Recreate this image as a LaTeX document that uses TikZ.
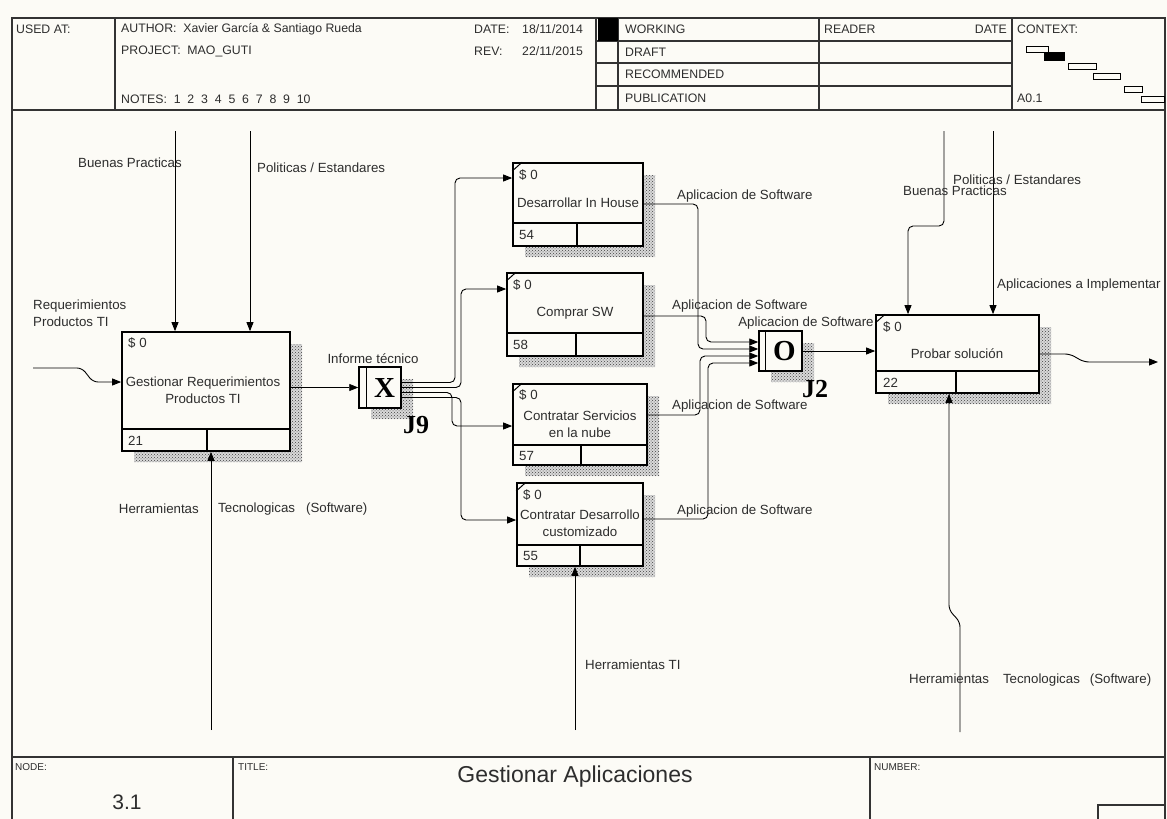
\documentclass[tikz,border=0pt]{standalone}
\usepackage{fontspec}
\setmainfont{Liberation Sans}
\newfontfamily\jfont{Liberation Serif}
\usetikzlibrary{arrows.meta, patterns}
\definecolor{paper}{RGB}{252,251,246}
\definecolor{ink}{RGB}{45,45,45}

% L-shaped hatched shadow of a box (x1,y1)-(x2,y2)
\newcommand\boxshadow[4]{%
  \fill[shadebg] (#3,{#2+12}) -- ({#3+12},{#2+12}) -- ({#3+12},{#4+11})
    -- ({#1+12},{#4+11}) -- ({#1+12},#4) -- (#3,#4) -- cycle;
  \fill[shade] (#3,{#2+12}) -- ({#3+12},{#2+12}) -- ({#3+12},{#4+11})
    -- ({#1+12},{#4+11}) -- ({#1+12},#4) -- (#3,#4) -- cycle;}
% lower strip of an activity box: name, strip y, divider x
\newcommand\boxstrip[3]{%
  \draw[part] (#1.west |- 0,#2) -- (#1.east |- 0,#2)
              (#3,#2) -- (#1.south -| #3,0);}

\begin{document}
\begin{tikzpicture}[
  x=1pt, y=-1pt,
  font=\fontsize{13.3}{17}\selectfont,
  actbox/.style={draw, line width=1.7pt, fill=paper, inner sep=0pt},
  junc/.style={draw, line width=1.5pt, fill=paper, inner sep=0pt},
  part/.style={line width=1.5pt},
  tick/.style={line width=1pt},
  rel/.style={-{Triangle[length=9pt,width=7pt]}, line width=0.9pt, rounded corners=5pt},
  lbl/.style={inner sep=0pt, text=ink},
  hdr/.style={inner sep=0pt, font=\fontsize{12.3}{14}\selectfont, text=ink},
  ftr/.style={inner sep=0pt, font=\fontsize{10}{12}\selectfont, text=ink},
  jlbl/.style={inner sep=0pt, font=\jfont\bfseries\fontsize{26}{26}\selectfont},
  jsym/.style={inner sep=0pt, font=\jfont\bfseries\fontsize{29}{29}\selectfont},
  shadebg/.style={fill=black!15},
  shade/.style={pattern=crosshatch dots, pattern color=black!75},
  frame/.style={line width=1.2pt, draw=black!80}
]
\fill[paper] (0,0) rectangle (1167,819);
\useasboundingbox (0,0) rectangle (1167,819);

% form frame
\draw[frame] (12,819) -- (12,18) -- (1165,18) -- (1165,819);
\draw[frame] (12,110) -- (1165,110);
\draw[frame] (12,757) -- (1165,757);
\draw[frame] (115,18) -- (115,110) (596,18) -- (596,110) (618,18) -- (618,110)
             (819,18) -- (819,110) (1012,18) -- (1012,110);
\draw[frame] (596,41) -- (1012,41) (596,63) -- (1012,63) (596,86) -- (1012,86);
\fill (598,18) rectangle (618,41);
\draw[frame] (233,757) -- (233,819) (870,757) -- (870,819);
\draw[frame] (1098,819) -- (1098,805) -- (1165,805);

% header texts
\node[hdr, anchor=west] (usedat) at (16,29) {USED AT:};
\node[hdr, anchor=west] (author) at (121,29) {AUTHOR:~~Xavier García \& Santiago Rueda};
\node[hdr, anchor=west] (project) at (121,51) {PROJECT:~~MAO\_GUTI};
\node[hdr, anchor=west] (notes) at (121,99) {NOTES:~~1~~2~~3~~4~~5~~6~~7~~8~~9~~10};
\node[hdr, anchor=west] (date) at (474,29) {DATE:};
\node[hdr, anchor=west] (dateval) at (522,29) {18/11/2014};
\node[hdr, anchor=west] (rev) at (474,51) {REV:};
\node[hdr, anchor=west] (revval) at (522,51) {22/11/2015};
\node[hdr, anchor=west] (working) at (625,29.5) {WORKING};
\node[hdr, anchor=west] (draft) at (625,52) {DRAFT};
\node[hdr, anchor=west] (recom) at (625,74.5) {RECOMMENDED};
\node[hdr, anchor=west] (publ) at (625,98) {PUBLICATION};
\node[hdr, anchor=west] (reader) at (824,29.5) {READER};
\node[hdr, anchor=east] (rdate) at (1007,29.5) {DATE};
\node[hdr, anchor=west] (context) at (1017,29.5) {CONTEXT:};
\node[hdr, anchor=west] (ctxnum) at (1017,98) {A0.1};
\draw[line width=1pt] (1026,46) rectangle (1048,52);
\filldraw[line width=1pt] (1044,52) rectangle (1064,60);
\draw[line width=1pt] (1068,63) rectangle (1096,69) (1093,73) rectangle (1120,79)
                      (1124,86) rectangle (1142,92) (1141,96) rectangle (1164,102);

% footer texts
\node[ftr, anchor=west] (nodelbl) at (15,767) {NODE:};
\node[ftr, anchor=west] (titlelbl) at (238,767) {TITLE:};
\node[ftr, anchor=west] (numlbl) at (874,767) {NUMBER:};
\node[lbl, font=\fontsize{21}{23}\selectfont] (nodenum) at (127,802) {3.1};
\node[lbl, font=\fontsize{23}{25}\selectfont] (title) at (575,777) {Gestionar Aplicaciones};

% shadows
\boxshadow{122}{332}{290}{451}
\boxshadow{513}{163}{643}{246}
\boxshadow{507}{273}{643}{356}
\boxshadow{513}{384}{647}{465}
\boxshadow{517}{483}{643}{566}
\boxshadow{876}{315}{1039}{393}
\boxshadow{359}{367}{401}{408}
\boxshadow{759}{331}{802}{371}

% activity boxes
\node[actbox, minimum width=168pt, minimum height=119pt] (a1) at (206,391.5) {};
\boxstrip{a1}{429}{207}
\node[lbl, anchor=west] (a1c) at (128,343) {\$ 0};
\node[lbl, align=center] (a1t) at (203,390.5) {Gestionar Requerimientos\\Productos TI};
\node[lbl, anchor=west] (a1n) at (128,441) {21};

\node[actbox, minimum width=130pt, minimum height=83pt] (dev) at (578,204.5) {};
\boxstrip{dev}{223}{577}
\draw[tick] ([yshift=-9pt]dev.north west) -- ([xshift=10pt]dev.north west);
\node[lbl, anchor=west] (devc) at (519,175) {\$ 0};
\node[lbl] (devt) at (578,203) {Desarrollar In House};
\node[lbl, anchor=west] (devn) at (519,235) {54};

\node[actbox, minimum width=136pt, minimum height=83pt] (buy) at (575,314.5) {};
\boxstrip{buy}{333}{576}
\draw[tick] ([yshift=-9pt]buy.north west) -- ([xshift=10pt]buy.north west);
\node[lbl, anchor=west] (buyc) at (513,285) {\$ 0};
\node[lbl] (buyt) at (575,313) {Comprar SW};
\node[lbl, anchor=west] (buyn) at (513,345) {58};

\node[actbox, minimum width=134pt, minimum height=81pt] (svc) at (580,424.5) {};
\boxstrip{svc}{445}{581}
\draw[tick] ([yshift=-9pt]svc.north west) -- ([xshift=10pt]svc.north west);
\node[lbl, anchor=west] (svcc) at (519,395) {\$ 0};
\node[lbl, align=center] (svct) at (580,424) {Contratar Servicios\\en la nube};
\node[lbl, anchor=west] (svcn) at (519,456) {57};

\node[actbox, minimum width=126pt, minimum height=83pt] (cus) at (580,524.5) {};
\boxstrip{cus}{545}{580}
\draw[tick] ([yshift=-9pt]cus.north west) -- ([xshift=10pt]cus.north west);
\node[lbl, anchor=west] (cusc) at (523,495) {\$ 0};
\node[lbl, align=center] (cust) at (580,523.5) {Contratar Desarrollo\\customizado};
\node[lbl, anchor=west] (cusn) at (523,556) {55};

\node[actbox, minimum width=163pt, minimum height=78pt] (prb) at (957.5,354) {};
\boxstrip{prb}{371}{956}
\draw[tick] ([yshift=-9pt]prb.north west) -- ([xshift=10pt]prb.north west);
\node[lbl, anchor=west] (prbc) at (883,327) {\$ 0};
\node[lbl] (prbt) at (957,354) {Probar solución};
\node[lbl, anchor=west] (prbn) at (883,383) {22};

% junctions
\node[junc, minimum width=42pt, minimum height=41pt] (j9) at (380,387.5) {};
\draw[part] ([xshift=8pt]j9.north west) -- ([xshift=8pt]j9.south west);
\node[jsym] (j9s) at (384.5,388) {X};
\node[jlbl] (j9l) at (416,425) {J9};

\node[junc, minimum width=43pt, minimum height=40pt] (j2) at (780.5,351) {};
\draw[part] ([xshift=7pt]j2.north west) -- ([xshift=7pt]j2.south west);
\node[jsym] (j2s) at (784.5,351) {O};
\node[jlbl] (j2l) at (815,389) {J2};

% free ends
\coordinate (rqsrc) at (33,368);
\coordinate (bp1) at (175,131);
\coordinate (pe1) at (250,131);
\coordinate (ht1) at (211,730);
\coordinate (ht3) at (575,730);
\coordinate (bp2) at (944,131);
\coordinate (pe2) at (993,131);
\coordinate (ht2) at (960,732);
\coordinate (apout) at (1158,362);

% arrows
\draw[rel] (rqsrc) -- (82,368) -- (93,382) -- (a1.west |- 0,382);
\draw[rel] (bp1) -- (a1.north -| bp1);
\draw[rel] (pe1) -- (a1.north -| pe1);
\draw[rel] (ht1) -- (a1.south -| ht1);
\draw[rel] (a1.east |- j9.west) -- (j9.west);

\draw[rel] ([yshift=5pt]j9.east) -| (455,178) -- (dev.west |- 0,178);
\draw[rel] (j9.east) -| (461,289) -- (buy.west |- 0,289);
\draw[rel] ([yshift=-5pt]j9.east) -| (452,426) -- (svc.west |- 0,426);
\draw[rel] ([yshift=-10pt]j9.east) -| (461,520) -- (cus.west |- 0,520);
\draw[rel] (ht3) -- (cus.south -| ht3);

\draw[rel] (dev.east |- 0,204) -| (698,349) -- (j2.west |- 0,349);
\draw[rel] (buy.east |- 0,316) -| (706,342) -- (j2.west |- 0,342);
\draw[rel] (svc.east |- 0,415) -| (700,356) -- (j2.west |- 0,356);
\draw[rel] (cus.east |- 0,519) -| (708,363) -- (j2.west |- 0,363);

\draw[rel] (j2.east) -- (prb.west |- j2.east);
\draw[rel] (bp2) -- (944,226) -- (908,226) -- (prb.north -| 908,0);
\draw[rel] (pe2) -- (prb.north -| pe2);
\draw[rel] (ht2) -- (960,622) -- (949,610) -- (prb.south -| 949,0);
\draw[rel] (prb.east) -- (1070,354) -- (1084,362) -- (apout);

% arrow labels
\node[lbl, anchor=west, align=left] (rqlbl) at (33,313.5) {Requerimientos\\Productos TI};
\node[lbl, anchor=west] (bp1lbl) at (78,163) {Buenas Practicas};
\node[lbl, anchor=west] (pe1lbl) at (257,168) {Politicas / Estandares};
\node[lbl, anchor=east] (ht1lbl) at (199,509) {Herramientas};
\node[lbl, anchor=west] (ht1lbl2) at (218,509) {Tecnologicas\hspace{11pt}(Software)};
\node[lbl] (inflbl) at (373,359) {Informe técnico};
\node[lbl, anchor=west] (devout) at (677,196) {Aplicacion de Software};
\node[lbl, anchor=west] (buyout) at (672,306) {Aplicacion de Software};
\node[lbl, anchor=west] (svcout) at (672,406) {Aplicacion de Software};
\node[lbl, anchor=west] (cusout) at (677,511) {Aplicacion de Software};
\node[lbl] (j2out) at (806,323) {Aplicacion de Software};
\node[lbl, anchor=west] (ht3lbl) at (585,665) {Herramientas TI};
\node[lbl, anchor=west] (bp2lbl) at (903,191) {Buenas Practicas};
\node[lbl, anchor=west] (pe2lbl) at (953,180) {Politicas / Estandares};
\node[lbl, anchor=west] (aplbl) at (997,285) {Aplicaciones a Implementar};
\node[lbl, anchor=west] (ht2lbl) at (909,680) {Herramientas\hspace{14pt}Tecnologicas\hspace{10pt}(Software)};
\end{tikzpicture}
\end{document}
